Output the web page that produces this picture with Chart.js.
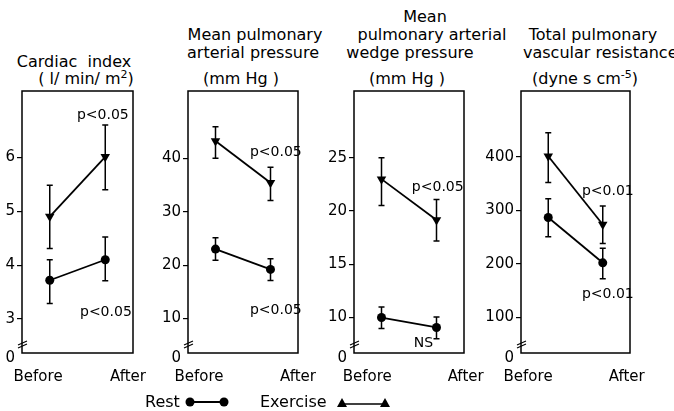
<!DOCTYPE html>
<html>
<head>
<meta charset="utf-8">
<script src="https://cdn.jsdelivr.net/npm/chart.js@4.4.1/dist/chart.umd.min.js"></script>
<style>
  html,body{margin:0;padding:0;background:#fff;}
  body{width:674px;height:411px;position:relative;overflow:hidden;font-family:"DejaVu Sans",sans-serif;color:#000;}
  .t{position:absolute;font-size:16px;line-height:18px;white-space:nowrap;transform:translate(-50%,-50%);}
  .tl{position:absolute;font-size:16px;line-height:18px;white-space:nowrap;transform:translate(0,-50%);}
  .cv{position:absolute;top:80px;}
  sup{font-size:11px;line-height:0;}
</style>
</head>
<body>
<div class="t" style="left:74px;top:62px;">Cardiac&nbsp;&nbsp;index</div>
<div class="t" style="left:86px;top:79px;">(&nbsp;l/ min/ m<sup>2</sup>)</div>

<div class="t" style="left:255px;top:35px;">Mean pulmonary</div>
<div class="t" style="left:253px;top:53px;">arterial pressure</div>
<div class="t" style="left:241px;top:79px;">(mm Hg )</div>

<div class="t" style="left:425px;top:17px;">Mean</div>
<div class="t" style="left:432px;top:35px;">pulmonary arterial</div>
<div class="t" style="left:410px;top:53px;">wedge pressure</div>
<div class="t" style="left:407px;top:79px;">(mm Hg )</div>

<div class="t" style="left:593px;top:35px;">Total pulmonary</div>
<div class="tl" style="left:523px;top:53px;">vascular resistance</div>
<div class="t" style="left:585px;top:79px;">(dyne s cm<sup>-5</sup>)</div>

<canvas id="c1" class="cv" style="left:0px;" width="157" height="315"></canvas>
<canvas id="c2" class="cv" style="left:150px;" width="172" height="315"></canvas>
<canvas id="c3" class="cv" style="left:320px;" width="168" height="315"></canvas>
<canvas id="c4" class="cv" style="left:475px;" width="179" height="315"></canvas>

<div class="tl" style="left:145px;top:402px;">Rest</div>
<svg style="position:absolute;left:180px;top:394px;" width="54" height="16">
  <line x1="10" y1="8" x2="44" y2="8" stroke="#000" stroke-width="2"/>
  <circle cx="10" cy="8" r="4.5" fill="#000"/>
  <circle cx="44" cy="8" r="4.5" fill="#000"/>
</svg>
<div class="tl" style="left:260px;top:402px;">Exercise</div>
<svg style="position:absolute;left:332px;top:394px;" width="64" height="16">
  <line x1="10" y1="10" x2="53" y2="10" stroke="#000" stroke-width="1.6"/>
  <polygon points="5,13 10,4 15,13" fill="#000"/>
  <polygon points="48,13 53,4 58,13" fill="#000"/>
</svg>

<script>
// ---------- data ----------
const categories = ['Before', 'After'];

const ciTicks = [3, 4, 5, 6];
const ciRest = [3.72, 4.10];
const ciRestLow = [3.29, 3.71];
const ciRestHigh = [4.10, 4.52];
const ciEx = [4.90, 6.01];
const ciExLow = [4.31, 5.40];
const ciExHigh = [5.48, 6.60];

const mpaTicks = [10, 20, 30, 40];
const mpaRest = [23.0, 19.2];
const mpaRestLow = [20.9, 17.1];
const mpaRestHigh = [25.1, 21.2];
const mpaEx = [43.2, 35.4];
const mpaExLow = [40.0, 32.1];
const mpaExHigh = [45.9, 38.3];

const pwTicks = [10, 15, 20, 25];
const pwRest = [10.0, 9.07];
const pwRestLow = [8.97, 8.0];
const pwRestHigh = [11.0, 10.06];
const pwEx = [23.0, 19.16];
const pwExLow = [20.52, 17.2];
const pwExHigh = [25.0, 21.1];

const tpvrTicks = [100, 200, 300, 400];
const tpvrRest = [286.5, 201.8];
const tpvrRestLow = [250.5, 172];
const tpvrRestHigh = [321.5, 229];
const tpvrEx = [401, 273.4];
const tpvrExLow = [352, 238];
const tpvrExHigh = [445, 308];

const ciNotes = [['p<0.05', 0.49, 6.78], ['p<0.05', 0.545, 3.13]];
const mpaNotes = [['p<0.05', 0.627, 41.05], ['p<0.05', 0.627, 11.5]];
const pwNotes = [['p<0.05', 0.552, 22.23], ['NS', 0.588, 7.57]];
const tpvrNotes = [['p<0.01', 0.619, 336], ['p<0.01', 0.619, 142]];

// ---------- drawing ----------
const FONT = '"DejaVu Sans", sans-serif';
const decoPlugin = {
  id: 'deco',
  beforeDatasetsDraw(chart) {
    const ctx = chart.ctx;
    const ys = chart.scales.y;
    ctx.save();
    ctx.strokeStyle = '#000';
    ctx.lineWidth = 1.5;
    chart.data.datasets.forEach((ds, i) => {
      const meta = chart.getDatasetMeta(i);
      meta.data.forEach((pt, j) => {
        const y1 = ys.getPixelForValue(ds.lo[j]);
        const y2 = ys.getPixelForValue(ds.hi[j]);
        ctx.beginPath();
        ctx.moveTo(pt.x, y1); ctx.lineTo(pt.x, y2);
        ctx.moveTo(pt.x - 3, y1); ctx.lineTo(pt.x + 3, y1);
        ctx.moveTo(pt.x - 3, y2); ctx.lineTo(pt.x + 3, y2);
        ctx.stroke();
      });
    });
    ctx.restore();
  },
  afterDraw(chart, args, opts) {
    const ctx = chart.ctx;
    const a = chart.chartArea;
    ctx.save();
    ctx.strokeStyle = '#000';
    ctx.lineWidth = 1.5;
    ctx.strokeRect(a.left, a.top, a.right - a.left, a.bottom - a.top);
    // axis break
    const yb = a.bottom - 9;
    ctx.lineWidth = 1.2;
    ctx.beginPath();
    ctx.moveTo(a.left - 4, yb + 1); ctx.lineTo(a.left + 5, yb - 3);
    ctx.moveTo(a.left - 4, yb + 4); ctx.lineTo(a.left + 5, yb);
    ctx.stroke();
    // annotations
    ctx.fillStyle = '#000';
    ctx.font = '14px ' + FONT;
    ctx.textAlign = 'left';
    ctx.textBaseline = 'middle';
    (opts.notes || []).forEach(n => {
      ctx.fillText(n[0], chart.scales.x.getPixelForValue(n[1]), chart.scales.y.getPixelForValue(n[2]));
    });
    ctx.restore();
  }
};

function makePanel(id, yWidth, xLabelPos, yMin, yMax, yTicks, rest, restLo, restHi, ex, exLo, exHi, notes) {
  const toPts = arr => arr.map((v, i) => ({ x: i, y: v }));
  // the "0" of the broken axis sits just below the frame
  const zeroPos = yMin - (yMax - yMin) * 0.019;
  new Chart(document.getElementById(id), {
    type: 'line',
    data: {
      datasets: [
        { label: 'Rest', data: toPts(rest), lo: restLo, hi: restHi,
          borderColor: '#000', backgroundColor: '#000', borderWidth: 1.8,
          pointStyle: 'circle', pointRadius: 4.5, pointBackgroundColor: '#000', pointBorderWidth: 0 },
        { label: 'Exercise', data: toPts(ex), lo: exLo, hi: exHi,
          borderColor: '#000', backgroundColor: '#000', borderWidth: 1.8,
          pointStyle: 'triangle', pointRotation: 180, pointRadius: 5.5, pointBackgroundColor: '#000', pointBorderWidth: 0 }
      ]
    },
    options: {
      responsive: false,
      animation: false,
      devicePixelRatio: 1,
      layout: { padding: { top: 10, right: 24, left: 0, bottom: 0 } },
      plugins: { legend: { display: false }, tooltip: { enabled: false }, deco: { notes } },
      scales: {
        x: {
          type: 'linear', min: -0.5, max: 1.5,
          afterBuildTicks: s => { s.ticks = xLabelPos.map(v => ({ value: v })); },
          afterFit: s => { s.height = 42; s.paddingLeft = 0; s.paddingRight = 0; },
          grid: { display: false },
          border: { display: false },
          ticks: { color: '#000', font: { family: FONT, size: 15 }, padding: 7, maxRotation: 0, autoSkip: false,
                   callback: (v, i) => categories[i] }
        },
        y: {
          type: 'linear', min: yMin, max: yMax,
          afterBuildTicks: s => { s.ticks = [{ value: zeroPos }].concat(yTicks.map(v => ({ value: v }))); },
          afterFit: s => { s.width = yWidth; },
          grid: { display: true, drawOnChartArea: false, drawTicks: true, tickLength: 5,
                  color: c => (c.index === 0 ? 'rgba(0,0,0,0)' : '#000'), lineWidth: 1.2 },
          border: { display: false },
          ticks: { color: '#000', font: { family: FONT, size: 15 }, padding: 2, autoSkip: false,
                   callback: (v, i) => (i === 0 ? '0' : String(v)) }
        }
      }
    },
    plugins: [decoPlugin]
  });
}

makePanel('c1', 22, [-0.21, 1.41], 2.37, 7.23, ciTicks, ciRest, ciRestLow, ciRestHigh, ciEx, ciExLow, ciExHigh, ciNotes);
makePanel('c2', 38, [-0.30, 1.50], 3.56, 52.57, mpaTicks, mpaRest, mpaRestLow, mpaRestHigh, mpaEx, mpaExLow, mpaExHigh, mpaNotes);
makePanel('c3', 34, [-0.26, 1.53], 6.67, 31.28, pwTicks, pwRest, pwRestLow, pwRestHigh, pwEx, pwExLow, pwExHigh, pwNotes);
makePanel('c4', 46, [-0.37, 1.44], 33.2, 523, tpvrTicks, tpvrRest, tpvrRestLow, tpvrRestHigh, tpvrEx, tpvrExLow, tpvrExHigh, tpvrNotes);
</script>
</body>
</html>
